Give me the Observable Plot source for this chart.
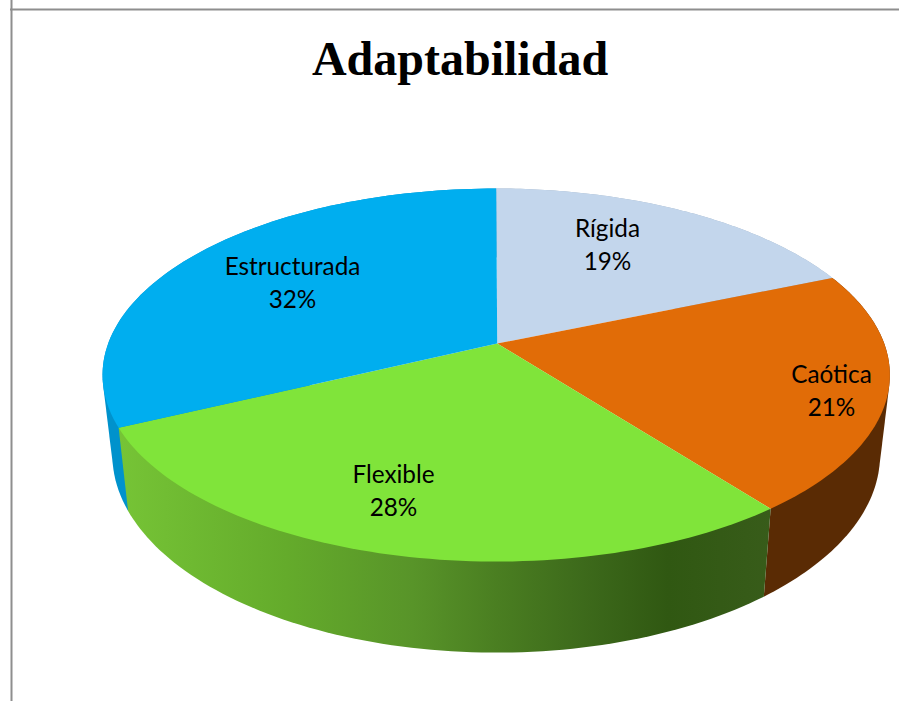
<!DOCTYPE html>
<html>
<head>
<meta charset="utf-8">
<script src="https://cdn.jsdelivr.net/npm/d3@7"></script>
<script src="https://cdn.jsdelivr.net/npm/@observablehq/plot@0.6"></script>
<style>html,body{margin:0;padding:0;background:#fff;overflow:hidden}</style>
</head>
<body>
<div id="chart"></div>
<script>
const categories = ["Rígida", "Caótica", "Flexible", "Estructurada"];
const shares = [18.7, 20.8, 28.4, 32.1];
const percentLabels = ["19%", "21%", "28%", "32%"];
const topColors = ["#c3d6ec", "#e16c07", "#80e43a", "#00aeef"];
const sideColors = ["#9fb0c2", "#5a2b04", "url(#side-green)", "#0092cc"];
const sideDrawOrder = [0, 3, 1, 2];
const labelX = [607, 831, 393, 292];
const labelY = [242, 388, 488, 280];
const titleText = "Adaptabilidad";
const greenStopOffsets = [0, 0.257, 0.45, 0.58, 0.71, 0.84, 1];
const greenStopColors = ["#76c436", "#64ab2b", "#589429", "#4a7e21", "#3d6a1b", "#305812", "#385c1a"];

// perspective view of the pie disc
const view = {cx: 495.7, cy: 343, halfW: 388, depthA: 181.2, k: 0.169, sideX: 0.975, sideY: 1.06, sideCy: 421};
const rim = (t) => {
  const a = t * 2 * Math.PI, x = Math.sin(a), z = Math.cos(a), d = 1 + view.k * z;
  return {dx: view.halfW * x / d, dy: -view.depthA * z / d};
};
const topPt = (t) => { const p = rim(t); return {x: view.cx + p.dx, y: view.cy + p.dy}; };
const botPt = (t) => { const p = rim(t); return {x: view.cx + view.sideX * p.dx, y: view.sideCy + view.sideY * p.dy}; };

const total = d3.sum(shares);
const cumulative = d3.cumsum(shares);
const slices = categories.map((name, i) => ({
  name, i,
  t0: (i ? cumulative[i - 1] : 0) / total,
  t1: cumulative[i] / total
}));
const arc = (s, f) => d3.range(0, 81).map((j) => f(s.t0 + (s.t1 - s.t0) * j / 80));
const topPoly = (s) => [{x: view.cx + 1, y: view.cy}, ...arc(s, topPt)];
const sidePoly = (s) => {
  const pts = [...arc(s, topPt), ...arc(s, botPt)];
  const hull = d3.polygonHull(pts.map((p) => [p.x, p.y]));
  return hull.map(([x, y]) => ({x, y}));
};

const labels = categories.map((name, i) => ({text: name + "\n" + percentLabels[i], x: labelX[i], y: labelY[i]}));

const plot = Plot.plot({
  width: 899, height: 701,
  margin: 0,
  x: {domain: [0, 899], range: [0, 899], axis: null},
  y: {domain: [0, 701], range: [0, 701], axis: null},
  marks: [
    Plot.ruleX([11], {stroke: "#8e8e8e", strokeWidth: 2}),
    Plot.ruleY([9], {x1: 10, x2: 899, stroke: "#8e8e8e", strokeWidth: 2}),
    ...sideDrawOrder.map((i) => Plot.line(sidePoly(slices[i]), {x: "x", y: "y", fill: sideColors[i], stroke: "none"})),
    ...slices.map((s) => Plot.line(topPoly(s), {x: "x", y: "y", fill: topColors[s.i], stroke: "none"})),
    Plot.text(labels, {x: "x", y: "y", text: "text", fontFamily: "Lato", fontSize: 24.3, lineHeight: 1.36, fill: "#000"}),
    Plot.text([titleText], {x: [459.5], y: [59], fontFamily: "Liberation Serif", fontWeight: "bold", fontSize: 48, fill: "#000"})
  ]
});

const defs = d3.select(plot).insert("defs", ":first-child");
const grad = defs.append("linearGradient").attr("id", "side-green")
  .attr("gradientUnits", "userSpaceOnUse")
  .attr("x1", 118).attr("x2", 772).attr("y1", 0).attr("y2", 0);
greenStopOffsets.forEach((o, i) => grad.append("stop").attr("offset", o).attr("stop-color", greenStopColors[i]));
document.getElementById("chart").appendChild(plot);
</script>
</body>
</html>
